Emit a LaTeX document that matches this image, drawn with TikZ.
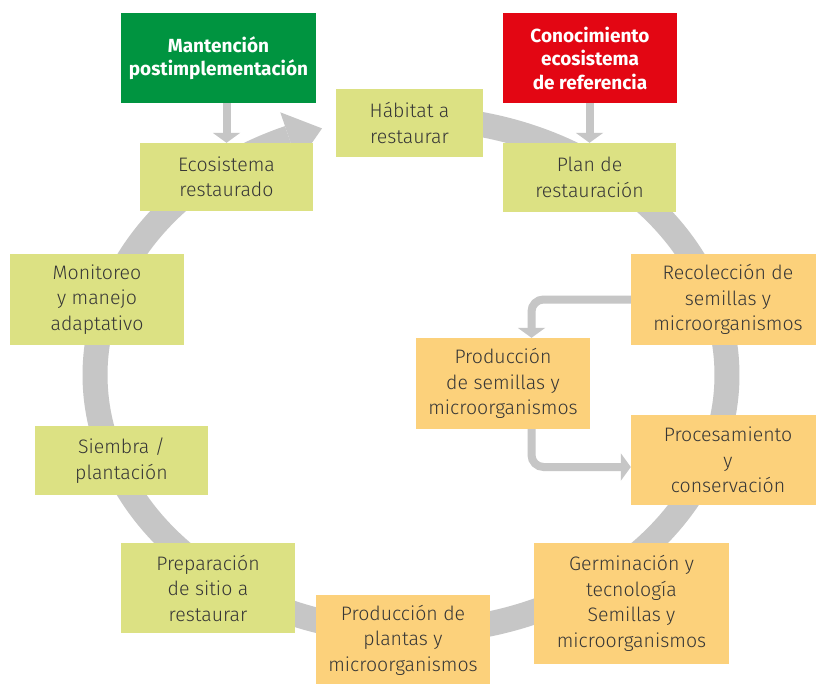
\documentclass[tikz,border=0pt]{standalone}
\usepackage{fontspec}
\setmainfont{Fira Sans Light}[BoldFont={Fira Sans Bold}]
\usetikzlibrary{arrows.meta,calc}
\definecolor{ringgray}{HTML}{C6C6C6}
\definecolor{lgreen}{HTML}{DCE183}
\definecolor{lorange}{HTML}{FCD17B}
\definecolor{dgreen}{HTML}{009440}
\definecolor{dred}{HTML}{E30613}
\definecolor{txt}{HTML}{363636}
\tikzset{
  box/.style={draw=none, inner sep=0pt, align=center, text=txt,
    font=\fontsize{19.5}{25.5}\selectfont},
  gbox/.style={box, fill=lgreen},
  obox/.style={box, fill=lorange},
  hbox/.style={box, text=white, font=\fontsize{19}{23.5}\selectfont\bfseries},
  conn/.style={draw=ringgray, line width=8pt,
    -{Triangle[width=27pt,length=10pt]}},
}
\begin{document}
\begin{tikzpicture}[x=1pt,y=-1pt]
\clip (0,0) rectangle (816,683);
\fill[white] (0,0) rectangle (816,683);
% ring
\draw[ringgray, line width=25pt] plot[domain=258:607.3, samples=240, smooth]
  ({411+316*cos(\x)},{375+257*sin(\x)});
\fill[ringgray] (280.3,112.3) -- (322,128.4) -- (297.7,163.5) -- cycle;
% nodes
\node[hbox, fill=dgreen, minimum width=195, minimum height=90] (mant) at (218.5,58) {Mantención\\postimplementación};
\node[hbox, fill=dred, minimum width=174, minimum height=90] (cono) at (590,58) {Conocimiento\\ecosistema\\de referencia};
\node[gbox, minimum width=147, minimum height=68] (hab) at (409.5,123) {Hábitat a\\restaurar};
\node[gbox, minimum width=173, minimum height=68] (eco) at (226.5,177) {Ecosistema\\restaurado};
\node[gbox, minimum width=173, minimum height=69] (plan) at (589.5,177.5) {Plan de\\restauración};
\node[obox, minimum width=194, minimum height=91] (reco) at (728,299.5) {Recolección de\\semillas y\\microorganismos};
\node[obox, minimum width=174, minimum height=91] (prodsem) at (503,383.5) {Producción\\de semillas y\\microorganismos};
\node[obox, minimum width=194, minimum height=90] (proc) at (728,460) {Procesamiento\\y\\conservación};
\node[gbox, minimum width=174, minimum height=91] (moni) at (97,299.5) {Monitoreo\\y manejo\\adaptativo};
\node[gbox, minimum width=173, minimum height=69] (siem) at (121.5,460.5) {Siembra /\\plantación};
\node[gbox, minimum width=174, minimum height=90] (prep) at (208,588) {Preparación\\de sitio a\\restaurar};
\node[obox, minimum width=174, minimum height=90] (prodpl) at (403,640) {Producción de\\plantas y\\microorganismos};
\node[obox, minimum width=195, minimum height=121] (germ) at (631.5,603.5) {Germinación y\\tecnología\\Semillas y\\microorganismos};
% connectors
\draw[conn] (eco.north |- mant.south) -- (eco.north);
\draw[conn] (plan.north |- cono.south) -- (plan.north);
\draw[conn, rounded corners=12pt] (reco.west) -| ($(prodsem.north)+(28.5,0)$);
\draw[conn, rounded corners=12pt] ($(prodsem.south)+(28.5,0)$) |- ($(proc.west)+(0,7)$);
\end{tikzpicture}
\end{document}
